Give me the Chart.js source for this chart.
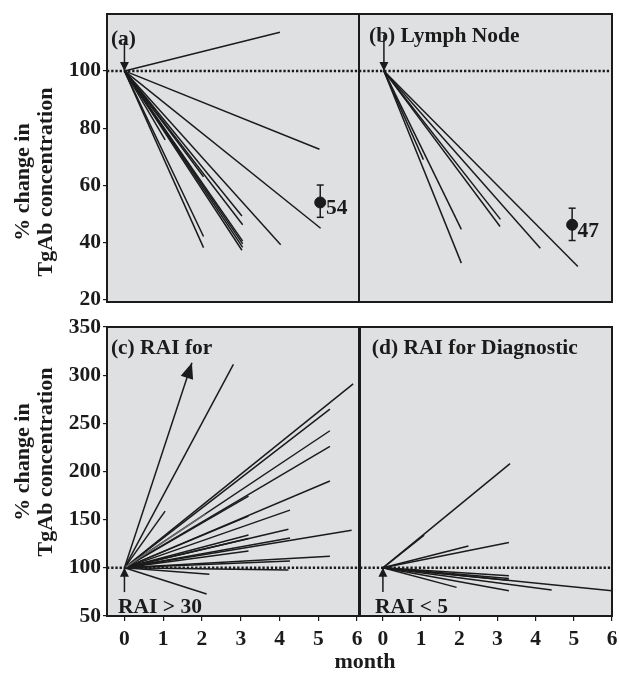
<!DOCTYPE html>
<html lang="en">
<head>
<meta charset="UTF-8" />
<title>% change in TgAb concentration</title>
<script src="https://cdn.jsdelivr.net/npm/chart.js"></script>
<style>
  body { margin: 0; background: #fff; }
  #wrap { position: relative; width: 619px; height: 673px; }
  canvas { position: absolute; }
</style>
</head>
<body>
<div id="wrap">
  <canvas id="chartA" width="360" height="310" style="left:0;top:0"></canvas>
  <canvas id="chartB" width="262" height="310" style="left:357px;top:0"></canvas>
  <canvas id="chartC" width="619" height="363" style="left:0;top:310px"></canvas>
  <canvas id="chartD" width="261" height="363" style="left:358px;top:310px"></canvas>
</div>
<script>
const monthTicks = [0, 1, 2, 3, 4, 5, 6];
const pctTicksTop = [20, 40, 60, 80, 100];
const pctTicksBottom = [50, 100, 150, 200, 250, 300, 350];

// [month, % of baseline] where each patient's line ends; every line starts at month 0, 100 %
const endsA = [[4.01, 113.5], [5.03, 72.6], [5.06, 45.0], [4.03, 39.2], [3.03, 49.3], [3.05, 46.2],
  [3.05, 40.5], [3.05, 39.5], [3.05, 38.3], [3.03, 37.3], [2.04, 42.1], [2.04, 38.2],
  [1.05, 75.9], [2.04, 63.0]];
const endsB = [[2.02, 32.8], [2.02, 44.6], [1.03, 69.0], [3.04, 48.1], [3.03, 45.6],
  [4.08, 38.0], [5.06, 31.6]];
const endsC = [[2.81, 311.3], [1.05, 158.9], [5.90, 291.0], [5.30, 264.8], [5.30, 242.3],
  [5.30, 226.1], [5.30, 190.1], [4.27, 159.9], [4.23, 140.0], [4.27, 131.0], [5.86, 138.9],
  [5.30, 112.0], [4.27, 107.2], [4.23, 97.8], [2.19, 93.4], [2.12, 72.8], [3.20, 174.4],
  [3.20, 153.7], [3.20, 134.1], [3.20, 130.4], [3.20, 117.5]];
const greyC = [[2.08, 155.5]];
const arrowC = [1.74, 313];
const endsD = [[3.33, 208.2], [1.08, 133.8], [3.30, 126.2], [2.24, 122.7], [3.30, 91.7],
  [3.30, 89.0], [3.30, 87.0], [1.93, 79.7], [3.30, 76.2], [4.42, 76.9], [6.0, 76.2]];

// mean with error bar: [month, mean, low, high]
const meanA = [5.05, 54, 48.8, 60.1];
const meanB = [4.91, 46.2, 40.7, 52.0];

const ink = '#1b1b1b';
const panelFill = '#dfe0e2';
const serif = '"Liberation Serif", "Times New Roman", serif';
const tickFont = { family: serif, size: 21.5, weight: 'bold' };

function fan(ends, color) {
  return ends.map(e => ({
    data: [{ x: 0, y: 100 }, { x: e[0], y: e[1] }],
    showLine: true, borderColor: color || ink, borderWidth: 1.5, pointRadius: 0
  }));
}

function baseline(xmin, xmax) {
  return {
    data: [{ x: xmin, y: 100 }, { x: xmax, y: 100 }],
    showLine: true, borderColor: ink, borderWidth: 2.5, borderDash: [2.3, 1.9], pointRadius: 0
  };
}

function arrow(fromY, tip, head) {
  return {
    data: [{ x: 0, y: fromY }, { x: tip[0], y: tip[1] }],
    showLine: true, borderColor: ink, borderWidth: 1.5, pointRadius: 0, arrowHead: head
  };
}

function meanMark(m) {
  return [
    {
      data: [{ x: m[0], y: m[2] }, { x: m[0], y: m[3] }],
      showLine: true, borderColor: ink, borderWidth: 1.5,
      pointStyle: 'line', pointRadius: 3.5, pointBorderColor: ink, pointBorderWidth: 1.5
    },
    { data: [{ x: m[0], y: m[1] }], pointRadius: 5.5, backgroundColor: ink, borderColor: ink }
  ];
}

function noPad(s) {
  s.paddingTop = 0; s.paddingBottom = 0; s.paddingLeft = 0; s.paddingRight = 0;
}

function yAxis(min, max, ticks, show) {
  const ax = { type: 'linear', min, max, display: show, afterFit: noPad };
  if (show) {
    Object.assign(ax, {
      afterBuildTicks: s => { s.ticks = ticks.map(v => ({ value: v })); },
      afterFit: s => { noPad(s); s.width = 107; },
      border: { display: false },
      grid: { drawOnChartArea: false, tickLength: 4, color: ink, lineWidth: 1.2 },
      ticks: { color: ink, padding: 2, font: tickFont }
    });
  }
  return ax;
}

function xAxis(min, max, show) {
  const ax = { type: 'linear', min, max, display: show, afterFit: noPad };
  if (show) {
    Object.assign(ax, {
      afterBuildTicks: s => { s.ticks = monthTicks.map(v => ({ value: v })); },
      afterFit: s => { noPad(s); s.height = 40; },
      border: { display: false },
      grid: { drawOnChartArea: false, tickLength: 5, color: ink, lineWidth: 1.2 },
      ticks: { color: ink, padding: 6, font: tickFont, maxRotation: 0, autoSkip: false }
    });
  }
  return ax;
}

// grey box, border, arrow heads and the text notes of one panel
function panelPlugin(notes, pixelTexts) {
  return {
    id: 'panel',
    beforeDraw(chart) {
      const a = chart.chartArea, ctx = chart.ctx;
      ctx.save();
      ctx.fillStyle = panelFill;
      ctx.fillRect(a.left, a.top, a.right - a.left, a.bottom - a.top);
      ctx.restore();
    },
    afterDatasetsDraw(chart) {
      const ctx = chart.ctx;
      chart.data.datasets.forEach((ds, i) => {
        if (!ds.arrowHead) return;
        const pts = chart.getDatasetMeta(i).data;
        const tip = pts[pts.length - 1], from = pts[pts.length - 2];
        const ang = Math.atan2(tip.y - from.y, tip.x - from.x);
        const len = ds.arrowHead[0], half = ds.arrowHead[1];
        ctx.save();
        ctx.translate(tip.x, tip.y);
        ctx.rotate(ang);
        ctx.beginPath();
        ctx.moveTo(0, 0);
        ctx.lineTo(-len, -half);
        ctx.lineTo(-len, half);
        ctx.closePath();
        ctx.fillStyle = ink;
        ctx.fill();
        ctx.restore();
      });
    },
    afterDraw(chart) {
      const a = chart.chartArea, ctx = chart.ctx;
      const xs = chart.scales.x, ys = chart.scales.y;
      ctx.save();
      ctx.strokeStyle = ink;
      ctx.lineWidth = 2;
      ctx.strokeRect(a.left, a.top, a.right - a.left, a.bottom - a.top);
      ctx.fillStyle = ink;
      ctx.font = 'bold 21.5px ' + serif;
      ctx.textAlign = 'left';
      ctx.textBaseline = 'middle';
      notes.forEach(n => ctx.fillText(n.text, xs.getPixelForValue(n.x), ys.getPixelForValue(n.y)));
      pixelTexts.forEach(t => {
        ctx.save();
        ctx.font = 'bold 22px ' + serif;
        ctx.textAlign = 'center';
        ctx.translate(t.px, t.py);
        if (t.rotate) ctx.rotate(-Math.PI / 2);
        t.lines.forEach((line, k) => ctx.fillText(line, 0, t.offsets[k]));
        ctx.restore();
      });
      ctx.restore();
    }
  };
}

const yTitle = ['% change in', 'TgAb concentration'];

function makeChart(id, datasets, scales, padding, notes, pixelTexts) {
  return new Chart(document.getElementById(id), {
    type: 'scatter',
    data: { datasets },
    options: {
      responsive: false,
      animation: false,
      devicePixelRatio: 1,
      layout: { padding, autoPadding: false },
      scales,
      plugins: { legend: { display: false }, tooltip: { enabled: false } },
      events: []
    },
    plugins: [panelPlugin(notes, pixelTexts)]
  });
}

const rangeAC = [-0.45, 6.05];
const rangeB = [-0.65, 5.95];
const rangeD = [-0.6, 6.0];

makeChart('chartA',
  [baseline(rangeAC[0], rangeAC[1]), ...fan(endsA), arrow(110.1, [0, 100], [9, 4.5]), ...meanMark(meanA)],
  { x: xAxis(rangeAC[0], rangeAC[1], false), y: yAxis(19.2, 119.9, pctTicksTop, true) },
  { left: 0, top: 14, right: 1, bottom: 8 },
  [{ text: '(a)', x: -0.35, y: 111 }, { text: '54', x: 5.2, y: 51.9 }],
  [{ lines: yTitle, px: 0, py: 182, rotate: true, offsets: [23.5, 46.5] }]
);

makeChart('chartB',
  [baseline(rangeB[0], rangeB[1]), ...fan(endsB), arrow(112.6, [0, 100], [9, 4.5]), ...meanMark(meanB)],
  { x: xAxis(rangeB[0], rangeB[1], false), y: yAxis(19.2, 119.9, pctTicksTop, false) },
  { left: 2, top: 14, right: 7, bottom: 8 },
  [{ text: '(b) Lymph Node', x: -0.39, y: 112.2 }, { text: '47', x: 5.05, y: 43.7 }],
  []
);

makeChart('chartC',
  [baseline(rangeAC[0], rangeAC[1]), ...fan(greyC, '#6a6a6a'), ...fan(endsC),
    arrow(100, arrowC, [16, 6.5]), arrow(74.8, [0, 100], [9, 4.5])],
  { x: xAxis(rangeAC[0], rangeAC[1], true), y: yAxis(50, 350, pctTicksBottom, true) },
  { left: 0, top: 17, right: 260, bottom: 17 },
  [{ text: '(c) RAI for', x: -0.35, y: 328.2 }, { text: 'RAI > 30', x: -0.165, y: 59.3 }],
  [
    { lines: yTitle, px: 0, py: 152, rotate: true, offsets: [23.5, 46.5] },
    { lines: ['month'], px: 365, py: 352, rotate: false, offsets: [0] }
  ]
);

makeChart('chartD',
  [baseline(rangeD[0], rangeD[1]), ...fan(endsD), arrow(74.8, [0, 100], [9, 4.5])],
  { x: xAxis(rangeD[0], rangeD[1], true), y: yAxis(50, 350, pctTicksBottom, false) },
  { left: 2, top: 17, right: 7, bottom: 17 },
  [{ text: '(d) RAI for Diagnostic', x: -0.29, y: 328.2 }, { text: 'RAI < 5', x: -0.21, y: 59.3 }],
  []
);
</script>
</body>
</html>
